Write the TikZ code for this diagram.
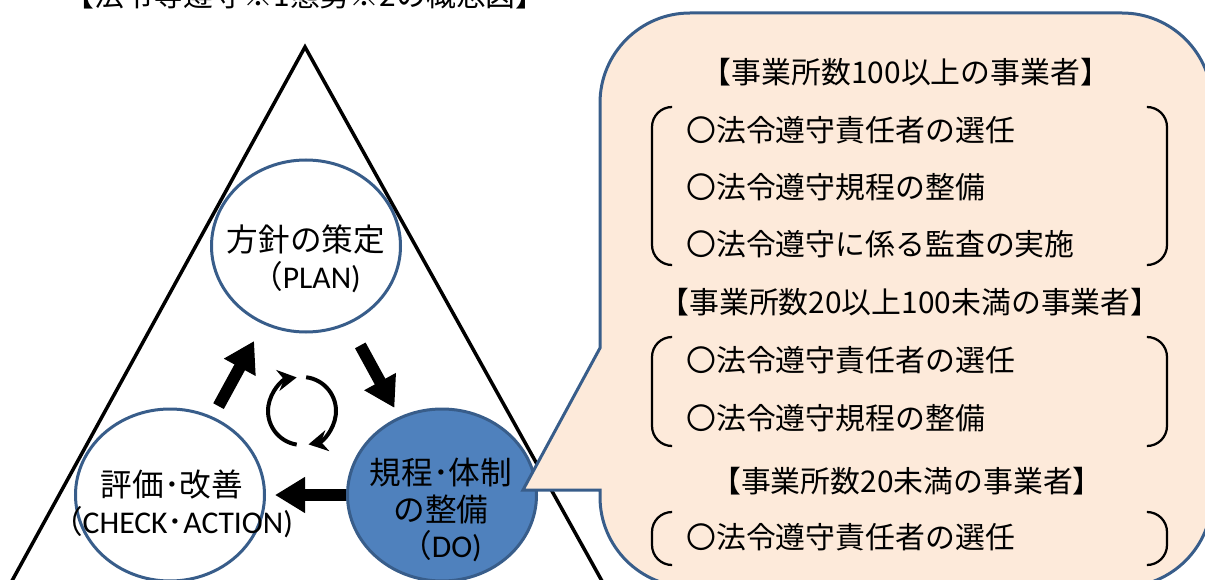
\documentclass[tikz,border=0pt]{standalone}
\usepackage{fontspec}
\setmainfont{Noto Sans CJK JP}
\newfontfamily\latinfont{Carlito}
\usetikzlibrary{arrows.meta}
\usetikzlibrary{positioning}
\usetikzlibrary{calc}
\usetikzlibrary{shapes.geometric}
\definecolor{shape border}{HTML}{385D8A}
\definecolor{shape fill}{HTML}{4F81BD}
\definecolor{callout fill}{HTML}{FDEADA}
\tikzset{
    % Heavy block arrow between two phases
    phase arrow/.style={-{Triangle[length=6mm, width=6.8mm]}, line width=2.4mm},
%
    % Small arrow round the turning mark
    turn arc/.style={-{Stealth[length=3.8mm, width=4.2mm]}, line width=0.8mm},
%
    % The ellipse drawn for each phase
    phase/.style={
        draw=shape border, line width=0.6mm, ellipse, inner sep=0,
        minimum width=37.8mm, minimum height=34.4mm},
%
    % The speech balloon on the right
    callout/.style={draw=shape border, line width=0.6mm, fill=callout fill},
%
    % Text lines set in the balloon
    callout text/.style={
        font=\fontsize{17}{20}\selectfont, inner sep=0,
        text height=15pt, text depth=2pt}}

\begin{document}
\begin{tikzpicture}[x=0.2mm, y=0.2mm,
    phase label/.style={align=center, font=\fontsize{18}{21}\selectfont, inner sep=0},
    item/.style={callout text, anchor=west},
    bracket/.style={line width=0.45mm, rounded corners=4mm}]

\useasboundingbox (0,0) rectangle (1205,579);
\clip (0,0) rectangle (1205,579);

\node [callout text, anchor=base] (title) at (305,572)
    {【法令等遵守※1態勢※2の概念図】};

% the triangle behind the cycle
\coordinate (apex) at (305,532);
\draw [line width=0.7mm] (2,-20) -- (apex) -- (612,-20);

\node [phase, fill=white] (plan) at (306,333) {};
\node [phase, fill=white] (check) at (170,84) {};
\node [phase, fill=shape fill] (do) at (442,84) {};

\node [phase label] (plan label) at ($(plan)+(0,-13)$)
    {方針の策定\\（{\latinfont PLAN)}};
\node [phase label] (check label) at ($(check)+(2,-9)$)
    {評価･改善\\（{\latinfont CHECK}･{\latinfont ACTION)}};
\node [phase label] (do label) at ($(do)+(-1,-15)$)
    {規程･体制\\の整備\\（{\latinfont DO)}};

\draw [phase arrow, shorten <=2.4mm, shorten >=3.8mm] (check) -- (plan);
\draw [phase arrow, shorten <=4.8mm, shorten >=2mm] (plan) -- (do);
\draw [phase arrow, shorten >=1.8mm] (do) -- (check);

\coordinate (rotation) at (302,168);
\draw [turn arc] ($(rotation)+(261:34)$) arc (261:99:34);
\draw [turn arc] ($(rotation)+(83:34)$) arc (83:-79:34);

\draw [callout] (600,231) -- (600,476) arc (180:90:90) -- (1122,566)
    arc (90:0:90) -- (1212,82) arc (0:-90:90) -- (690,-8)
    arc (270:180:90) -- (600,89) -- (523,89) -- cycle;

\node [callout text] (head1) at (906,507) {【事業所数100以上の事業者】};
\node [item] (item11) at (686,449) {〇法令遵守責任者の選任};
\node [item] (item12) at (686,392) {〇法令遵守規程の整備};
\node [item] (item13) at (686,335) {〇法令遵守に係る監査の実施};

\node [callout text] (head2) at (910,277) {【事業所数20以上100未満の事業者】};
\node [item] (item21) at (686,219) {〇法令遵守責任者の選任};
\node [item] (item22) at (686,161) {〇法令遵守規程の整備};

\node [callout text] (head3) at (907,98) {【事業所数20未満の事業者】};
\node [item] (item31) at (686,42) {〇法令遵守責任者の選任};

\draw [bracket] (672,472) -- (652,472) -- (652,314) -- (672,314);
\draw [bracket] (1148,472) -- (1167,472) -- (1167,314) -- (1148,314);
\draw [bracket] (672,242) -- (652,242) -- (652,133) -- (672,133);
\draw [bracket] (1148,242) -- (1167,242) -- (1167,133) -- (1148,133);
\draw [bracket] (672,67) -- (652,67) -- (652,14) -- (672,14);
\draw [bracket] (1148,67) -- (1167,67) -- (1167,14) -- (1148,14);

\end{tikzpicture}
\end{document}
